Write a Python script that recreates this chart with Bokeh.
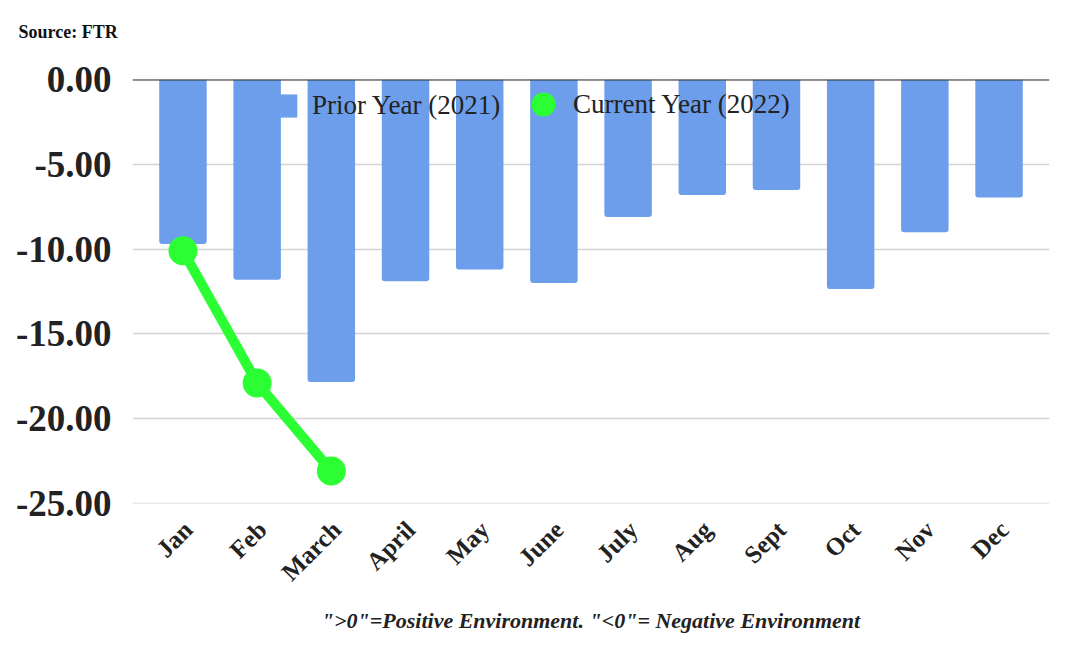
import math
from bokeh.plotting import figure
from bokeh.models import (ColumnDataSource, Range1d, FixedTicker,
                          PrintfTickFormatter, Span, Legend, LegendItem)
from bokeh.embed import file_html
from bokeh.resources import INLINE

months = ["Jan", "Feb", "March", "April", "May", "June", "July", "Aug",
          "Sept", "Oct", "Nov", "Dec"]
prior_2021 = [-9.7, -11.8, -17.85, -11.9, -11.2, -12.0, -8.1, -6.8,
              -6.5, -12.35, -9.0, -6.95]
current_months = ["Jan", "Feb", "March"]
current_2022 = [-10.1, -17.9, -23.1]
y_ticks = [0, -5, -10, -15, -20, -25]

BLUE = "#6d9eeb"
GREEN = "#2bff33"
SERIF = "Liberation Serif"

# month slots on a numeric axis (slot i = month i)
slot = {m: i for i, m in enumerate(months)}
LABEL_SHIFT = 0.07  # tick label anchor slightly right of slot centre

p = figure(
    x_range=Range1d(-0.68, len(months) - 1 + 0.68),
    y_range=Range1d(-25.02, 0.02),
    frame_width=917, frame_height=424,
    min_border_left=132, min_border_top=79, min_border_right=31,
    min_border_bottom=147,
    output_backend="svg", toolbar_location=None,
)
p.outline_line_color = None
p.background_fill_color = "white"

# source note as the title
p.title.text = "Source: FTR\n "
p.title.align = "left"
p.title.offset = -114
p.title.standoff = 32
p.title.vertical_align = "top"
p.title.text_font = SERIF
p.title.text_font_style = "bold"
p.title.text_font_size = "18px"
p.title.text_color = "#111111"

bars_src = ColumnDataSource(data=dict(x=[slot[m] for m in months],
                                      top=prior_2021, month=months))
bars = p.vbar(x="x", top="top", bottom=0, width=0.64, source=bars_src,
              fill_color=BLUE, line_color=None,
              border_radius=(0, 0, 3, 3))

cur_src = ColumnDataSource(data=dict(x=[slot[m] for m in current_months],
                                     y=current_2022, month=current_months))
p.line(x="x", y="y", source=cur_src, line_color=GREEN, line_width=10)
pts = p.scatter(x="x", y="y", source=cur_src, size=29, fill_color=GREEN,
                line_color=None)

p.add_layout(Span(location=0, dimension="width", line_color="#333333",
                  line_width=1.5))

# axes
p.yaxis.ticker = FixedTicker(ticks=y_ticks)
p.yaxis.formatter = PrintfTickFormatter(format="%.2f")
p.yaxis.major_label_text_font = SERIF
p.yaxis.major_label_text_font_style = "bold"
p.yaxis.major_label_text_font_size = "37px"
p.yaxis.major_label_text_color = "#222222"
p.yaxis.major_label_standoff = 15
p.yaxis.axis_line_color = None
p.yaxis.major_tick_line_color = None
p.yaxis.minor_tick_line_color = None

tick_locs = [slot[m] + LABEL_SHIFT for m in months]
p.xaxis.ticker = FixedTicker(ticks=tick_locs, minor_ticks=[])
p.xaxis.major_label_overrides = {t: m for t, m in zip(tick_locs, months)}
p.xaxis.major_label_orientation = math.pi / 4
p.xaxis.major_label_text_font = SERIF
p.xaxis.major_label_text_font_style = "bold"
p.xaxis.major_label_text_font_size = "25px"
p.xaxis.major_label_text_color = "#222222"
p.xaxis.major_label_standoff = 16
p.xaxis.axis_line_color = None
p.xaxis.major_tick_line_color = None
p.xaxis.minor_tick_line_color = None
p.xaxis.axis_label = '">0"=Positive Environment. "<0"= Negative Environment'
p.xaxis.axis_label_text_font = SERIF
p.xaxis.axis_label_text_font_style = "bold italic"
p.xaxis.axis_label_text_font_size = "22px"
p.xaxis.axis_label_text_color = "#222222"
p.xaxis.axis_label_standoff = 10

p.xgrid.grid_line_color = None
p.ygrid.ticker = FixedTicker(ticks=y_ticks)
p.ygrid.grid_line_color = "#d3d3d3"
p.ygrid.grid_line_width = 1.5

# legends
common = dict(padding=0, margin=0, border_line_color=None,
              background_fill_alpha=0, label_text_font=SERIF,
              label_text_font_size="27px", label_text_color="#222222",
              orientation="horizontal")
leg1 = Legend(items=[LegendItem(label="Prior Year (2021)", renderers=[bars])],
              location=(145, 382), glyph_width=22, glyph_height=29,
              label_height=29, label_standoff=13, **common)
leg2 = Legend(items=[LegendItem(label="Current Year (2022)", renderers=[pts])],
              location=(381, 369), glyph_width=60, glyph_height=60,
              label_height=29, label_standoff=-8, **common)
p.add_layout(leg1)
p.add_layout(leg2)

open("out.html", "w").write(file_html(p, INLINE))
